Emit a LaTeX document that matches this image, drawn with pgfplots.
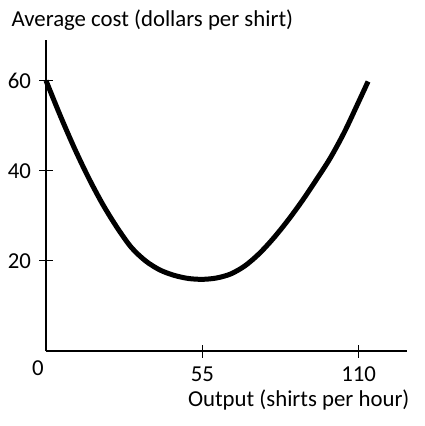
\documentclass[border=0pt]{standalone}
\usepackage{fontspec}
\setmainfont{Carlito}
\usepackage{pgfplots}
\pgfplotsset{compat=1.18}
\begin{document}
\begin{tikzpicture}
\useasboundingbox (0pt,0pt) rectangle (425pt,-426pt);
\begin{axis}[
  at={(46pt,-351pt)}, anchor=south west,
  scale only axis, width=361pt, height=311pt,
  xmin=0, xmax=127, ymin=0, ymax=69,
  axis lines=left,
  axis line style={-, line width=1.8pt},
  xtick={55,110}, ytick={20,40,60},
  tick align=center, major tick length=13pt,
  tick style={line width=1pt, black},
  tick label style={font=\fontsize{22.8}{22.8}\selectfont},
  yticklabel style={xshift=-5pt},
  xticklabel style={yshift=-6pt},
  /pgf/number format/assume math mode=true,
  clip=false,
]
\addplot[line width=5pt, black, smooth, line cap=butt] coordinates {
(0,60)(5,52.25)(10,45.0)(15,38.4)(20,32.5)(25,27.4)(30,23.0)(35,20.0)(40,18.0)(45,16.8)(50,16.1)(55,15.9)(60,16.2)(65,17.1)(70,18.9)(75,21.6)(80,25.0)(85,28.9)(90,33.2)(95,37.9)(100,42.8)(105,48.6)(110,55.3)(113.3,59.8)
};
\end{axis}
\node[anchor=base west, font=\fontsize{22.8}{22.8}\selectfont] at (8pt,-26pt) {Average cost (dollars per shirt)};
\node[anchor=base east, font=\fontsize{22.8}{22.8}\selectfont] at (413pt,-406pt) {Output (shirts per hour)};
\node[font=\fontsize{22.8}{22.8}\selectfont] at (38pt,-368pt) {0};
\end{tikzpicture}
\end{document}
